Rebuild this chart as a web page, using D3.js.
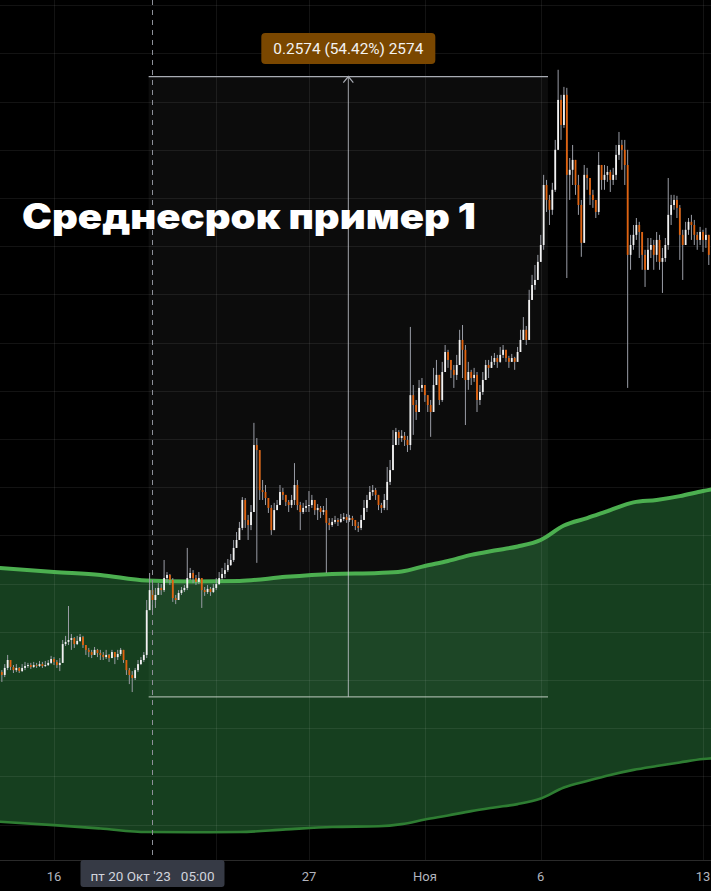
<!DOCTYPE html>
<html><head><meta charset="utf-8">
<script src="https://cdn.jsdelivr.net/npm/d3@7"></script>
<style>html,body{margin:0;padding:0;background:#000;overflow:hidden}</style>
</head><body>
<svg id="chart" width="711" height="891"></svg>
<script>
// ---- data (3-hour candles, starting 13 Oct 2023 18:00) ----
const candleStart = "2023-10-13T18:00:00Z";
const candleHours = 3;
const firstOpen = 0.4833;
const closes = [
0.4821,0.4850,0.4883,0.4854,0.4841,0.4850,0.4837,0.4850,0.4858,0.4862,
0.4854,0.4862,0.4858,0.4866,0.4858,0.4862,0.4871,0.4887,0.4875,0.4862,
0.4871,0.4949,0.4958,0.4966,0.4974,0.4949,0.4962,0.4978,0.4945,0.4925,
0.4916,0.4904,0.4925,0.4912,0.4904,0.4895,0.4904,0.4891,0.4916,0.4895,
0.4908,0.4925,0.4883,0.4841,0.4821,0.4808,0.4841,0.4866,0.4883,0.4904,
0.5090,0.5173,0.5132,0.5153,0.5182,0.5173,0.5223,0.5236,0.5215,0.5140,
0.5132,0.5161,0.5173,0.5182,0.5223,0.5244,0.5223,0.5207,0.5223,0.5173,
0.5165,0.5178,0.5165,0.5182,0.5198,0.5223,0.5240,0.5256,0.5277,0.5298,
0.5348,0.5381,0.5431,0.5547,0.5464,0.5443,0.5497,0.5775,0.5754,0.5588,
0.5580,0.5555,0.5514,0.5422,0.5505,0.5526,0.5580,0.5568,0.5539,0.5526,
0.5547,0.5609,0.5526,0.5497,0.5514,0.5522,0.5526,0.5547,0.5505,0.5514,
0.5497,0.5505,0.5452,0.5443,0.5456,0.5464,0.5456,0.5468,0.5476,0.5464,
0.5472,0.5464,0.5439,0.5431,0.5464,0.5514,0.5547,0.5580,0.5588,0.5568,
0.5526,0.5514,0.5547,0.5622,0.5671,0.5775,0.5829,0.5804,0.5813,0.5796,
0.5775,0.5982,0.5941,0.5912,0.6012,0.6024,0.5982,0.5941,0.5912,0.6024,
0.6066,0.5962,0.6078,0.6161,0.6128,0.6087,0.6066,0.6107,0.6211,0.6170,
0.6045,0.6078,0.6053,0.6066,0.5962,0.5995,0.6045,0.6107,0.6095,0.6120,
0.6136,0.6120,0.6149,0.6170,0.6136,0.6120,0.6136,0.6120,0.6161,0.6211,
0.6253,0.6211,0.6377,0.6439,0.6460,0.6535,0.6605,0.6854,0.6792,0.6751,
0.6834,0.7000,0.7207,0.7103,0.7228,0.6896,0.6917,0.6958,0.6854,0.6771,
0.6614,0.6896,0.6883,0.6813,0.6792,0.6742,0.6937,0.6875,0.6896,0.6908,
0.6875,0.6896,0.6979,0.7020,0.7000,0.6937,0.6564,0.6605,0.6647,0.6688,
0.6659,0.6564,0.6502,0.6585,0.6605,0.6564,0.6626,0.6535,0.6551,0.6605,
0.6730,0.6771,0.6792,0.6759,0.6647,0.6605,0.6668,0.6701,0.6688,0.6647,
0.6626,0.6659,0.6626,0.6647,0.6564];
const highs = [
0.4841,0.4866,0.4904,0.4883,0.4862,0.4866,0.4854,0.4866,0.4875,0.4871,
0.4871,0.4875,0.4871,0.4879,0.4875,0.4879,0.4883,0.4900,0.4895,0.4883,
0.4891,0.4966,0.4983,0.5107,0.4991,0.4978,0.4983,0.4991,0.4983,0.4945,
0.4933,0.4925,0.4937,0.4929,0.4925,0.4916,0.4925,0.4908,0.4925,0.4916,
0.4925,0.4933,0.4925,0.4883,0.4850,0.4837,0.4850,0.4883,0.4895,0.4916,
0.5132,0.5244,0.5194,0.5182,0.5202,0.5198,0.5298,0.5248,0.5240,0.5223,
0.5153,0.5173,0.5186,0.5194,0.5348,0.5265,0.5256,0.5236,0.5248,0.5223,
0.5186,0.5194,0.5186,0.5198,0.5223,0.5248,0.5265,0.5286,0.5302,0.5323,
0.5381,0.5414,0.5456,0.5559,0.5555,0.5485,0.5526,0.5867,0.5804,0.5622,
0.5630,0.5609,0.5547,0.5526,0.5535,0.5547,0.5609,0.5597,0.5564,0.5547,
0.5568,0.5700,0.5630,0.5539,0.5535,0.5547,0.5584,0.5568,0.5539,0.5530,
0.5522,0.5522,0.5555,0.5472,0.5472,0.5481,0.5472,0.5489,0.5493,0.5489,
0.5485,0.5481,0.5464,0.5456,0.5485,0.5547,0.5568,0.5605,0.5609,0.5597,
0.5568,0.5535,0.5572,0.5684,0.5713,0.5837,0.5846,0.5837,0.5837,0.5829,
0.5813,0.6265,0.6024,0.5962,0.6045,0.6053,0.6024,0.5978,0.5962,0.6095,
0.6128,0.6066,0.6120,0.6190,0.6170,0.6128,0.6107,0.6149,0.6253,0.6273,
0.6190,0.6120,0.6087,0.6095,0.6078,0.6024,0.6078,0.6128,0.6128,0.6145,
0.6157,0.6149,0.6182,0.6190,0.6170,0.6145,0.6153,0.6141,0.6182,0.6253,
0.6306,0.6269,0.6419,0.6481,0.6522,0.6564,0.6647,0.6896,0.6875,0.6813,
0.6863,0.7041,0.7332,0.7228,0.7261,0.7257,0.6966,0.7020,0.6958,0.6896,
0.6792,0.6937,0.6925,0.6875,0.6834,0.6792,0.6991,0.6925,0.6937,0.6933,
0.6917,0.6925,0.7020,0.7074,0.7041,0.7041,0.7000,0.6647,0.6688,0.6717,
0.6701,0.6626,0.6585,0.6634,0.6634,0.6626,0.6659,0.6647,0.6593,0.6634,
0.6883,0.6813,0.6813,0.6809,0.6771,0.6668,0.6701,0.6717,0.6730,0.6709,
0.6659,0.6680,0.6668,0.6676,0.6626];
const lows = [
0.4792,0.4812,0.4841,0.4841,0.4829,0.4833,0.4829,0.4833,0.4841,0.4850,
0.4846,0.4850,0.4850,0.4854,0.4850,0.4854,0.4858,0.4866,0.4862,0.4850,
0.4837,0.4871,0.4941,0.4945,0.4925,0.4933,0.4945,0.4958,0.4933,0.4904,
0.4895,0.4891,0.4908,0.4895,0.4883,0.4883,0.4887,0.4875,0.4900,0.4866,
0.4883,0.4900,0.4871,0.4821,0.4783,0.4750,0.4800,0.4833,0.4862,0.4875,
0.4891,0.5111,0.5090,0.5099,0.5157,0.5153,0.5165,0.5207,0.5194,0.5124,
0.5115,0.5132,0.5153,0.5165,0.5173,0.5215,0.5202,0.5194,0.5198,0.5099,
0.5149,0.5157,0.5149,0.5161,0.5173,0.5194,0.5215,0.5223,0.5248,0.5273,
0.5290,0.5348,0.5389,0.5422,0.5431,0.5381,0.5422,0.5497,0.5286,0.5547,
0.5547,0.5526,0.5493,0.5402,0.5431,0.5505,0.5547,0.5547,0.5522,0.5497,
0.5514,0.5526,0.5505,0.5422,0.5489,0.5497,0.5497,0.5514,0.5485,0.5464,
0.5472,0.5485,0.5244,0.5422,0.5435,0.5448,0.5439,0.5452,0.5460,0.5452,
0.5456,0.5439,0.5422,0.5414,0.5422,0.5464,0.5497,0.5547,0.5564,0.5547,
0.5505,0.5493,0.5505,0.5505,0.5609,0.5671,0.5775,0.5775,0.5788,0.5771,
0.5746,0.5754,0.5817,0.5879,0.5970,0.5995,0.5954,0.5912,0.5809,0.5912,
0.6024,0.5941,0.5954,0.6107,0.6095,0.6053,0.6012,0.6045,0.6120,0.6053,
0.5858,0.6004,0.6024,0.6037,0.5912,0.5941,0.5983,0.6066,0.6053,0.6095,
0.6107,0.6095,0.6116,0.6136,0.6120,0.6095,0.6120,0.6087,0.6136,0.6161,
0.6211,0.6190,0.6294,0.6377,0.6419,0.6481,0.6535,0.6585,0.6742,0.6688,
0.6730,0.6825,0.7020,0.7041,0.7091,0.6468,0.6792,0.6854,0.6813,0.6730,
0.6556,0.6668,0.6834,0.6771,0.6759,0.6717,0.6730,0.6834,0.6834,0.6867,
0.6825,0.6854,0.6875,0.6958,0.6917,0.6854,0.6012,0.6502,0.6585,0.6626,
0.6551,0.6502,0.6431,0.6535,0.6551,0.6502,0.6535,0.6502,0.6406,0.6535,
0.6585,0.6688,0.6751,0.6717,0.6543,0.6460,0.6605,0.6647,0.6626,0.6605,
0.6585,0.6605,0.6576,0.6593,0.6522];

// channel band
const bandDates = ["2023-10-13T12:00:00Z","2023-10-16T00:00:00Z","2023-10-18T00:00:00Z","2023-10-20T00:00:00Z",
"2023-10-22T00:00:00Z","2023-10-24T00:00:00Z","2023-10-26T00:00:00Z","2023-10-28T00:00:00Z","2023-10-30T00:00:00Z",
"2023-10-31T00:00:00Z","2023-11-01T00:00:00Z","2023-11-02T00:00:00Z","2023-11-03T00:00:00Z","2023-11-04T00:00:00Z",
"2023-11-05T00:00:00Z","2023-11-06T00:00:00Z","2023-11-07T00:00:00Z","2023-11-08T00:00:00Z","2023-11-09T00:00:00Z",
"2023-11-10T00:00:00Z","2023-11-11T00:00:00Z","2023-11-12T00:00:00Z","2023-11-13T00:00:00Z","2023-11-13T12:00:00Z"];
const bandUpper = [0.5266,0.5248,0.5236,0.5213,0.5209,0.5211,0.5228,0.5240,0.5244,0.5250,0.5273,0.5294,
0.5319,0.5337,0.5354,0.5381,0.5441,0.5472,0.5505,0.5537,0.5547,0.5563,0.5584,0.5593];
const bandLower = [0.4213,0.4198,0.4184,0.4169,0.4168,0.4169,0.4180,0.4190,0.4193,0.4202,0.4221,0.4238,
0.4256,0.4271,0.4285,0.4308,0.4354,0.4381,0.4406,0.4427,0.4443,0.4458,0.4472,0.4476];

// axis ticks
const tickDates = ["2023-10-16T00:00:00Z","2023-10-23T00:00:00Z","2023-10-27T00:00:00Z","2023-11-01T00:00:00Z","2023-11-06T00:00:00Z","2023-11-13T00:00:00Z"];
const tickLabels = ["16","23","27","Ноя","6","13"];
const gridPrices = [0.40,0.42,0.44,0.46,0.48,0.50,0.52,0.54,0.56,0.58,0.60,0.62,0.64,0.66,0.68,0.70,0.72,0.74,0.76];

// measure tool & crosshair
const measureStart = "2023-10-20T02:00:00Z", measureEnd = "2023-11-06T07:30:00Z";
const measureLow = 0.4730, measureHigh = 0.7304;
const measureLabel = "0.2574 (54.42%) 2574";
const crossTime = "2023-10-20T05:00:00Z";
const crossLabel = "пт 20 Окт '23\u00a0\u00a0\u00a005:00";
const title = "Среднесрок пример 1";

// ---- drawing ----
const W = 711, H = 891, plotBottom = 860;
const svg = d3.select("#chart");
const x = d3.scaleUtc().domain([new Date("2023-10-16T00:00:00Z"), new Date("2023-11-13T00:00:00Z")]).range([54, 703]);
const y = d3.scaleLinear().domain([0.48, 0.68]).range([680, 198]);

svg.append("rect").attr("width", W).attr("height", H).attr("fill", "#000");
svg.append("defs").append("clipPath").attr("id", "plot").append("rect").attr("width", W).attr("height", plotBottom);
const g = svg.append("g").attr("clip-path", "url(#plot)");

// measure rect (under the band)
const mx0 = x(new Date(measureStart)), mx1 = x(new Date(measureEnd));
const my0 = y(measureHigh), my1 = y(measureLow);
g.append("rect").attr("x", mx0).attr("y", my0).attr("width", mx1 - mx0).attr("height", my1 - my0)
  .attr("fill", "#0c0c0c");

// band
const band = bandDates.map((d, i) => ({t: new Date(d), u: bandUpper[i], l: bandLower[i]}));
g.append("path").datum(band)
  .attr("d", d3.area().curve(d3.curveMonotoneX).x(d => x(d.t)).y0(d => y(d.l)).y1(d => y(d.u)))
  .attr("fill", "rgb(62,180,90)").attr("fill-opacity", 0.35);

// grid
g.selectAll(".hg").data(gridPrices).enter().append("line")
  .attr("x1", 0).attr("x2", W).attr("y1", d => Math.round(y(d)) + 0.5).attr("y2", d => Math.round(y(d)) + 0.5)
  .attr("stroke", "rgba(255,255,255,0.075)").attr("stroke-width", 1);
g.selectAll(".vg").data(tickDates).enter().append("line")
  .attr("y1", 0).attr("y2", plotBottom).attr("x1", d => Math.round(x(new Date(d))) + 0.5).attr("x2", d => Math.round(x(new Date(d))) + 0.5)
  .attr("stroke", "rgba(255,255,255,0.075)").attr("stroke-width", 1);

// band lines
g.append("path").datum(band)
  .attr("d", d3.line().curve(d3.curveMonotoneX).x(d => x(d.t)).y(d => y(d.l)))
  .attr("fill", "none").attr("stroke", "#2e7d32").attr("stroke-width", 2.6);
g.append("path").datum(band)
  .attr("d", d3.line().curve(d3.curveMonotoneX).x(d => x(d.t)).y(d => y(d.u)))
  .attr("fill", "none").attr("stroke", "#4caf50").attr("stroke-width", 4);

// candles
const t0 = new Date(candleStart).getTime();
const candles = closes.map((c, i) => ({
  t: new Date(t0 + i * candleHours * 3600e3),
  o: i === 0 ? firstOpen : closes[i - 1], c: c, h: highs[i], l: lows[i]
}));
const cg = g.append("g");
cg.selectAll(".wick").data(candles).enter().append("line")
  .attr("x1", d => x(d.t)).attr("x2", d => x(d.t))
  .attr("y1", d => y(Math.max(d.h, d.o, d.c))).attr("y2", d => y(Math.min(d.l, d.o, d.c)))
  .attr("stroke", "#9a9da6").attr("stroke-width", 1);
cg.selectAll(".body").data(candles).enter().append("rect")
  .attr("x", d => x(d.t) - 0.9).attr("width", 1.8)
  .attr("y", d => y(Math.max(d.o, d.c))).attr("height", d => Math.max(1, Math.abs(y(d.o) - y(d.c))))
  .attr("fill", d => d.c >= d.o ? "#f2f2f2" : "#e0620e");

// measure lines
const mxm = (mx0 + mx1) / 2;
g.append("line").attr("x1", mx0).attr("x2", mx1).attr("y1", my0).attr("y2", my0).attr("stroke", "#a8abb3").attr("stroke-width", 1.2);
g.append("line").attr("x1", mx0).attr("x2", mx1).attr("y1", my1).attr("y2", my1).attr("stroke", "rgba(215,225,215,0.7)").attr("stroke-width", 1.2);
g.append("line").attr("x1", mxm).attr("x2", mxm).attr("y1", my0).attr("y2", my1).attr("stroke", "rgba(200,203,210,0.8)").attr("stroke-width", 1);
g.append("path").attr("d", `M${mxm - 5},${my0 + 6}L${mxm},${my0}L${mxm + 5},${my0 + 6}`)
  .attr("fill", "none").attr("stroke", "#a8abb3").attr("stroke-width", 1.2);

// crosshair
const cx = Math.round(x(new Date(crossTime))) + 0.5;
g.append("line").attr("x1", cx).attr("x2", cx).attr("y1", 0).attr("y2", plotBottom)
  .attr("stroke", "#8d9099").attr("stroke-width", 1).attr("stroke-dasharray", "5,5");

// title
svg.append("text").attr("x", 22).attr("y", 229).text(title)
  .attr("font-family", "Inter, 'Noto Sans', sans-serif").attr("font-weight", 900).attr("font-size", 35)
  .attr("textLength", 454).attr("lengthAdjust", "spacingAndGlyphs").attr("fill", "#ffffff");

// measure label
svg.append("rect").attr("x", mxm - 87).attr("y", 33).attr("width", 174).attr("height", 31).attr("rx", 4).attr("fill", "#7a4700");
svg.append("text").attr("x", mxm).attr("y", 54).attr("text-anchor", "middle").text(measureLabel)
  .attr("font-family", "Roboto, sans-serif").attr("font-size", 14.5).attr("fill", "#f3f3f3")
  .attr("textLength", 150).attr("lengthAdjust", "spacingAndGlyphs");

// x axis
svg.append("line").attr("x1", 0).attr("x2", W).attr("y1", plotBottom + 0.5).attr("y2", plotBottom + 0.5).attr("stroke", "#2a2a2a");
svg.selectAll(".tl").data(tickDates).enter().append("text")
  .attr("x", d => x(new Date(d))).attr("y", 881).attr("text-anchor", "middle")
  .text((d, i) => tickLabels[i])
  .attr("font-family", "Roboto, sans-serif").attr("font-size", 13).attr("fill", "#b2b5be");

// crosshair time label
svg.append("rect").attr("x", cx - 72).attr("y", plotBottom).attr("width", 144).attr("height", 27).attr("rx", 3).attr("fill", "#363a45");
svg.append("text").attr("x", cx).attr("y", 881).attr("text-anchor", "middle").text(crossLabel)
  .attr("font-family", "Roboto, sans-serif").attr("font-size", 13).attr("fill", "#d1d4dc")
  .attr("textLength", 124).attr("lengthAdjust", "spacingAndGlyphs");
</script>
</body></html>
